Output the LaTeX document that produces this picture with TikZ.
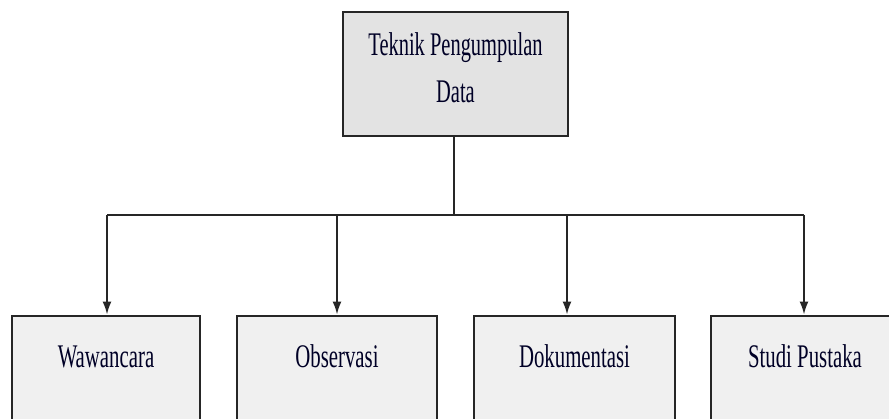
\documentclass[tikz,border=0pt]{standalone}
\usepackage{fontspec}
\setmainfont{Liberation Serif}
\usetikzlibrary{arrows.meta}
\begin{document}
\begin{tikzpicture}[x=1pt,y=-1pt,
  boxstyle/.style={draw=black!85, line width=2.9pt, inner sep=0pt, anchor=base,
     font=\fontsize{33}{47}\selectfont, text=black!85!blue},
  topbox/.style={draw=black!85, line width=2.9pt, fill=black!11, inner sep=0pt,
     minimum width=225pt, align=center, text height=90pt, text depth=34pt,
     font=\fontsize{33}{47}\selectfont, text=black!85!blue},
  leaf/.style={boxstyle, fill=black!6, text height=51pt, text depth=80pt},
  conn/.style={draw=black!85, line width=1.8pt},
  arr/.style={conn, -{Latex[length=13pt,width=9pt]}}]
\useasboundingbox (0,0) rectangle (889,418);
\begin{scope}
\clip (0,0) rectangle (889,418);
\node[topbox] (top) at (455.5,74) {\scalebox{0.62}[1]{Teknik Pengumpulan}\\\scalebox{0.62}[1]{Data}};
\node[leaf, minimum width=188pt] (w) at (106,367) {\scalebox{0.63}[1]{Wawancara}};
\node[leaf, minimum width=200pt] (o) at (337,367) {\scalebox{0.63}[1]{Observasi}};
\node[leaf, minimum width=201pt] (d) at (574.5,367) {\scalebox{0.63}[1]{Dokumentasi}};
\node[leaf, minimum width=188pt] (s) at (805,367) {\scalebox{0.63}[1]{Studi Pustaka}};
\coordinate (jt) at (454,215);
\coordinate (j1) at (107,215);
\coordinate (j2) at (337,215);
\coordinate (j3) at (567,215);
\coordinate (j4) at (804,215);
\draw[conn] (top.south -| jt) -- (jt);
\draw[conn, line width=2.4pt, line cap=butt] (j1) -- (j4);
\draw[arr] (j1) -- (j1 |- w.north);
\draw[arr] (j2) -- (j2 |- o.north);
\draw[arr] (j3) -- (j3 |- d.north);
\draw[arr] (j4) -- (j4 |- s.north);
\end{scope}
\end{tikzpicture}
\end{document}
